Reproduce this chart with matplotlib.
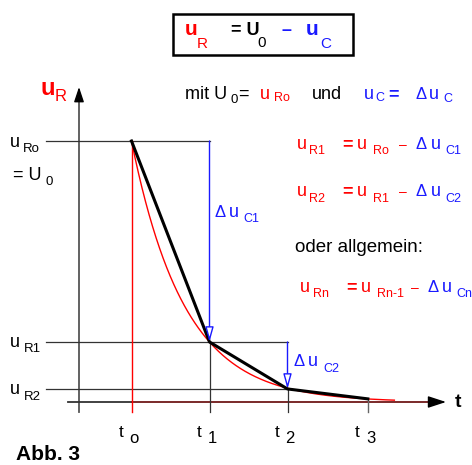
import numpy as np
import matplotlib.pyplot as plt
from matplotlib.patches import Rectangle

# values (time in steps, voltage relative to U0)
t_steps = [0.0, 1.0, 2.0, 3.03]        # t0, t1, t2, t3
u_R     = [1.0, 0.23, 0.05, 0.012]     # uR0, uR1, uR2, uR3
t_names = ['o', '1', '2', '3']
u_names = ['Ro', 'R1', 'R2']
t_curve_end = 3.37                     # where the red e-curve stops

W, H = 472, 465
X0, SX = 131.5, 78.0   # pixel of t0, pixels per step
Y0, SY = 402.0, 261.0  # pixel of u=0, pixels per U0

def px(x):
    return (x - X0) / SX

def py(y):
    return (Y0 - y) / SY

fig = plt.figure(figsize=(W / 100, H / 100), dpi=100)
ax = fig.add_axes([0, 0, 1, 1])
ax.set_xlim(px(0), px(W))
ax.set_ylim(py(H), py(0))
ax.axis('off')

RED = '#ff0000'
BLUE = '#1a1aff'
GRAY = '#333333'
FONT = 'Liberation Sans'

def txt(x, y, s, color='black', size=13, weight='normal'):
    ax.text(px(x), py(y), s, color=color, fontsize=size, fontweight=weight,
            ha='left', va='baseline', family=FONT)

# axes
ax.plot([px(79), px(79)], [py(412), py(96)], color='#555555', lw=1.3)
ax.annotate('', xy=(px(79), py(87)), xytext=(px(79), py(100)),
            arrowprops=dict(arrowstyle='-|>,head_length=0.9,head_width=0.3',
                            color='black', lw=1, shrinkA=0, shrinkB=0, mutation_scale=10))
ax.plot([px(68), t_steps[0]], [0, 0], color=GRAY, lw=1.3)
ax.plot([t_steps[0], px(432)], [0, 0], color='#701818', lw=1.3)
ax.annotate('', xy=(px(446), 0), xytext=(px(430), 0),
            arrowprops=dict(arrowstyle='-|>,head_length=1.1,head_width=0.36',
                            color='black', lw=1, shrinkA=0, shrinkB=0, mutation_scale=10))

# helper lines
for i in range(3):
    ax.plot([px(46), t_steps[min(i + 1, 2)]], [u_R[i], u_R[i]], color=GRAY, lw=0.9)
ax.plot([t_steps[0]] * 2, [py(412), u_R[0]], color=RED, lw=1.0)
ax.plot([t_steps[1]] * 2, [py(412), u_R[1]], color=GRAY, lw=0.9)
ax.plot([t_steps[2]] * 2, [py(412), u_R[2]], color=GRAY, lw=0.9)
ax.plot([t_steps[3]] * 2, [py(412), py(399)], color='#666666', lw=1.0)

# delta uC arrows
for i in range(2):
    ax.annotate('', xy=(t_steps[i + 1], u_R[i + 1]), xytext=(t_steps[i + 1], u_R[i]),
                arrowprops=dict(arrowstyle='-|>,head_length=0.9,head_width=0.25',
                                fc='white', ec=BLUE, lw=1.0, shrinkA=0, shrinkB=0,
                                mutation_scale=10))

# e-function and step approximation
decay = u_R[1] / u_R[0]
tt = np.linspace(0, t_curve_end, 300)
ax.plot(tt, u_R[0] * decay ** tt, color=RED, lw=1.0)
ax.plot(t_steps, u_R, color='black', lw=2.2, solid_joinstyle='round')

# title box
ax.add_patch(Rectangle((px(173), py(55)), (353 - 173) / SX, (55 - 14) / SY,
                       fill=False, ec='black', lw=1.8))
txt(185, 35, 'u', RED, 15, 'bold')
txt(197, 48, 'R', RED, 11)
txt(231, 35, '= U', 'black', 13, 'bold')
txt(257, 47, '0', 'black', 11)
txt(281, 35, '–', BLUE, 13, 'bold')
txt(306, 35, 'u', BLUE, 15, 'bold')
txt(320, 48, 'C', BLUE, 11)

# y label
txt(40, 95, 'u', RED, 17, 'bold')
txt(55, 101, 'R', RED, 12)

# left labels
txt(10, 147, 'u', 'black', 13)
txt(23, 152, u_names[0], 'black', 9.5)
txt(13, 180, '= U', 'black', 13)
txt(45, 185, '0', 'black', 9.5)
txt(10, 347, 'u', 'black', 13)
txt(24, 352, u_names[1], 'black', 9.5)
txt(10, 394, 'u', 'black', 13)
txt(24, 400, u_names[2], 'black', 9.5)

# t labels
for t, name in zip(t_steps, t_names):
    x = X0 + t * SX
    txt(x - 13, 437, 't', 'black', 12.5)
    txt(x - 2, 443, name, 'black', 12)
txt(455, 407, 't', 'black', 14, 'bold')
txt(16, 460, 'Abb. 3', 'black', 15, 'bold')

# delta labels
txt(214, 217, 'Δ', BLUE, 12)
txt(229, 217, 'u', BLUE, 13)
txt(243, 222, 'C1', BLUE, 9)
txt(294, 366, 'Δ', BLUE, 12)
txt(308, 366, 'u', BLUE, 13)
txt(323, 372, 'C2', BLUE, 9)

# right hand text
txt(185, 99, 'mit U', 'black', 13)
txt(230, 103, '0', 'black', 9.5)
txt(238, 99, '=', 'black', 13)
txt(260, 99, 'u', RED, 13)
txt(274, 101, 'Ro', RED, 9)
txt(312, 99, 'und', 'black', 13)
txt(364, 99, 'u', BLUE, 13)
txt(375, 101, 'C', BLUE, 9)
txt(388, 99, '=', BLUE, 13, 'bold')
txt(415, 99, 'Δ', BLUE, 12)
txt(429, 99, 'u', BLUE, 13)
txt(443, 102, 'C', BLUE, 9)

rows = [(149, 154, 'R1', 'Ro', 'C1'), (196, 202, 'R2', 'R1', 'C2')]
for yb, ys, a, b, c in rows:
    txt(297, yb, 'u', RED, 13)
    txt(309, ys, a, RED, 9)
    txt(342, yb, '=', RED, 13, 'bold')
    txt(357, yb, 'u', RED, 13)
    txt(373, ys, b, RED, 9)
    txt(399, yb, '–', RED, 10)
    txt(416, yb, 'Δ', BLUE, 12)
    txt(431, yb, 'u', BLUE, 13)
    txt(445, ys, c, BLUE, 9)

txt(295, 252, 'oder allgemein:', 'black', 13.5)
txt(300, 292, 'u', RED, 13)
txt(313, 297, 'Rn', RED, 9)
txt(346, 292, '=', RED, 13, 'bold')
txt(361, 292, 'u', RED, 13)
txt(377, 297, 'Rn-1', RED, 9)
txt(411, 292, '–', RED, 10)
txt(427, 292, 'Δ', BLUE, 12)
txt(442, 292, 'u', BLUE, 13)
txt(456, 297, 'Cn', BLUE, 9)

fig.savefig('out.png', dpi=100)
